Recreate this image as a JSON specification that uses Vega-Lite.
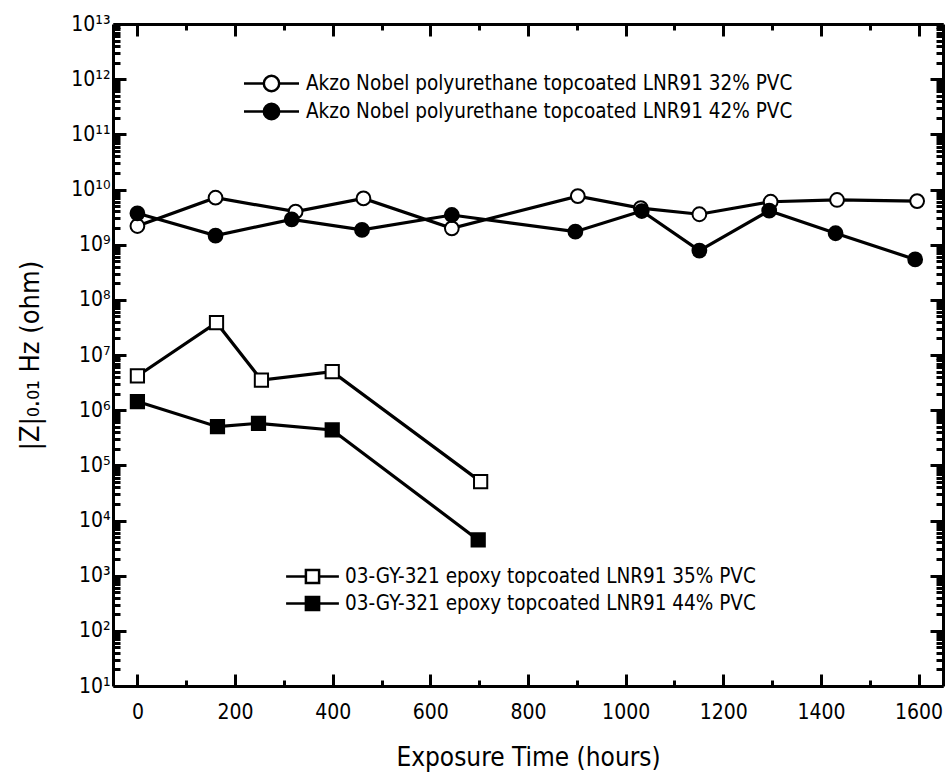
{
  "$schema": "https://vega.github.io/schema/vega-lite/v6.json",
  "width": 830,
  "height": 662,
  "autosize": {"type": "none"},
  "padding": {"left": 113, "top": 24, "right": 6, "bottom": 90},
  "background": "white",
  "config": {
    "view": {"stroke": null},
    "font": "DejaVu Sans Condensed, DejaVu Sans",
    "axis": {
      "labelFont": "DejaVu Sans Condensed, DejaVu Sans",
      "titleFont": "DejaVu Sans Condensed, DejaVu Sans",
      "labelColor": "black",
      "titleColor": "black",
      "domainColor": "black",
      "tickColor": "black",
      "domainWidth": 3,
      "tickWidth": 3,
      "grid": false,
      "titleFontWeight": "normal"
    },
    "legend": {
      "labelFont": "DejaVu Sans Condensed, DejaVu Sans",
      "labelColor": "black"
    }
  },
  "data": {
    "values": [
      {"series": "Akzo Nobel polyurethane topcoated LNR91 32% PVC", "t": 0, "z": 2.18e9},
      {"series": "Akzo Nobel polyurethane topcoated LNR91 32% PVC", "t": 160, "z": 7.1e9},
      {"series": "Akzo Nobel polyurethane topcoated LNR91 32% PVC", "t": 324, "z": 3.96e9},
      {"series": "Akzo Nobel polyurethane topcoated LNR91 32% PVC", "t": 463, "z": 6.9e9},
      {"series": "Akzo Nobel polyurethane topcoated LNR91 32% PVC", "t": 644, "z": 1.98e9},
      {"series": "Akzo Nobel polyurethane topcoated LNR91 32% PVC", "t": 902, "z": 7.6e9},
      {"series": "Akzo Nobel polyurethane topcoated LNR91 32% PVC", "t": 1031, "z": 4.6e9},
      {"series": "Akzo Nobel polyurethane topcoated LNR91 32% PVC", "t": 1151, "z": 3.56e9},
      {"series": "Akzo Nobel polyurethane topcoated LNR91 32% PVC", "t": 1297, "z": 6.0e9},
      {"series": "Akzo Nobel polyurethane topcoated LNR91 32% PVC", "t": 1433, "z": 6.46e9},
      {"series": "Akzo Nobel polyurethane topcoated LNR91 32% PVC", "t": 1597, "z": 6.17e9},
      {"series": "Akzo Nobel polyurethane topcoated LNR91 42% PVC", "t": 0, "z": 3.7e9},
      {"series": "Akzo Nobel polyurethane topcoated LNR91 42% PVC", "t": 160, "z": 1.46e9},
      {"series": "Akzo Nobel polyurethane topcoated LNR91 42% PVC", "t": 316, "z": 2.88e9},
      {"series": "Akzo Nobel polyurethane topcoated LNR91 42% PVC", "t": 460, "z": 1.85e9},
      {"series": "Akzo Nobel polyurethane topcoated LNR91 42% PVC", "t": 644, "z": 3.45e9},
      {"series": "Akzo Nobel polyurethane topcoated LNR91 42% PVC", "t": 897, "z": 1.72e9},
      {"series": "Akzo Nobel polyurethane topcoated LNR91 42% PVC", "t": 1033, "z": 4.07e9},
      {"series": "Akzo Nobel polyurethane topcoated LNR91 42% PVC", "t": 1151, "z": 7.8e8},
      {"series": "Akzo Nobel polyurethane topcoated LNR91 42% PVC", "t": 1294, "z": 4.13e9},
      {"series": "Akzo Nobel polyurethane topcoated LNR91 42% PVC", "t": 1430, "z": 1.61e9},
      {"series": "Akzo Nobel polyurethane topcoated LNR91 42% PVC", "t": 1593, "z": 5.4e8},
      {"series": "03-GY-321 epoxy topcoated LNR91 35% PVC", "t": 0, "z": 4.17e6},
      {"series": "03-GY-321 epoxy topcoated LNR91 35% PVC", "t": 162, "z": 3.85e7},
      {"series": "03-GY-321 epoxy topcoated LNR91 35% PVC", "t": 254, "z": 3.52e6},
      {"series": "03-GY-321 epoxy topcoated LNR91 35% PVC", "t": 399, "z": 4.99e6},
      {"series": "03-GY-321 epoxy topcoated LNR91 35% PVC", "t": 703, "z": 5.06e4},
      {"series": "03-GY-321 epoxy topcoated LNR91 44% PVC", "t": 0, "z": 1.43e6},
      {"series": "03-GY-321 epoxy topcoated LNR91 44% PVC", "t": 164, "z": 5.02e5},
      {"series": "03-GY-321 epoxy topcoated LNR91 44% PVC", "t": 248, "z": 5.78e5},
      {"series": "03-GY-321 epoxy topcoated LNR91 44% PVC", "t": 399, "z": 4.38e5},
      {"series": "03-GY-321 epoxy topcoated LNR91 44% PVC", "t": 698, "z": 4.44e3}
    ]
  },
  "resolve": {
    "scale": {"fill": "independent"},
    "axis": {"x": "independent", "y": "independent"},
    "legend": {"fill": "independent"}
  },
  "layer": [
    {
      "mark": {"type": "line", "color": "black", "strokeWidth": 3.2},
      "encoding": {
        "x": {
          "field": "t", "type": "quantitative",
          "scale": {"domain": [-50, 1650], "nice": false, "zero": false},
          "axis": {
            "orient": "bottom",
            "title": "Exposure Time (hours)",
            "titleFontSize": 26,
            "titlePadding": 22,
            "values": [0, 100, 200, 300, 400, 500, 600, 700, 800, 900, 1000, 1100, 1200, 1300, 1400, 1500, 1600],
            "format": "d",
            "labelExpr": "datum.value % 200 == 0 ? datum.label : ''",
            "labelFontSize": 21,
            "labelPadding": 27,
            "tickSize": {"condition": {"test": "datum.value % 200 == 0", "value": -12}, "value": -6}
          }
        },
        "y": {
          "field": "z", "type": "quantitative",
          "scale": {"type": "log", "domain": [10, 1e13], "nice": false},
          "axis": {
            "orient": "left",
            "title": "|Z|₀.₀₁ Hz (ohm)",
            "titleFontSize": 27,
            "titlePadding": 26,
            "values": [1e1,2e1,3e1,4e1,5e1,6e1,7e1,8e1,9e1,1e2,2e2,3e2,4e2,5e2,6e2,7e2,8e2,9e2,1e3,2e3,3e3,4e3,5e3,6e3,7e3,8e3,9e3,1e4,2e4,3e4,4e4,5e4,6e4,7e4,8e4,9e4,1e5,2e5,3e5,4e5,5e5,6e5,7e5,8e5,9e5,1e6,2e6,3e6,4e6,5e6,6e6,7e6,8e6,9e6,1e7,2e7,3e7,4e7,5e7,6e7,7e7,8e7,9e7,1e8,2e8,3e8,4e8,5e8,6e8,7e8,8e8,9e8,1e9,2e9,3e9,4e9,5e9,6e9,7e9,8e9,9e9,1e10,2e10,3e10,4e10,5e10,6e10,7e10,8e10,9e10,1e11,2e11,3e11,4e11,5e11,6e11,7e11,8e11,9e11,1e12,2e12,3e12,4e12,5e12,6e12,7e12,8e12,9e12,1e13],
            "labelExpr": "abs(log(datum.value)/LN10 - round(log(datum.value)/LN10)) < 0.001 ? '10' + ['⁰','¹','²','³','⁴','⁵','⁶','⁷','⁸','⁹','¹⁰','¹¹','¹²','¹³'][round(log(datum.value)/LN10)] : ''",
            "labelFontSize": 21,
            "labelPadding": 16,
            "tickSize": {"condition": {"test": "abs(log(datum.value)/LN10 - round(log(datum.value)/LN10)) < 0.001", "value": -13}, "value": -7}
          }
        },
        "detail": {"field": "series", "type": "nominal"}
      }
    },
    {
      "transform": [{"filter": "indexof(datum.series, 'Akzo') == 0"}],
      "mark": {"type": "point", "shape": "circle", "filled": true, "size": 190, "stroke": "black", "strokeWidth": 2, "opacity": 1},
      "encoding": {
        "x": {
          "field": "t", "type": "quantitative",
          "axis": {
            "orient": "top", "title": null, "labels": false,
            "values": [0, 100, 200, 300, 400, 500, 600, 700, 800, 900, 1000, 1100, 1200, 1300, 1400, 1500, 1600],
            "tickSize": {"condition": {"test": "datum.value % 200 == 0", "value": -12}, "value": -6}
          }
        },
        "y": {
          "field": "z", "type": "quantitative",
          "axis": {
            "orient": "right", "title": null, "labels": false,
            "values": [1e1,2e1,3e1,4e1,5e1,6e1,7e1,8e1,9e1,1e2,2e2,3e2,4e2,5e2,6e2,7e2,8e2,9e2,1e3,2e3,3e3,4e3,5e3,6e3,7e3,8e3,9e3,1e4,2e4,3e4,4e4,5e4,6e4,7e4,8e4,9e4,1e5,2e5,3e5,4e5,5e5,6e5,7e5,8e5,9e5,1e6,2e6,3e6,4e6,5e6,6e6,7e6,8e6,9e6,1e7,2e7,3e7,4e7,5e7,6e7,7e7,8e7,9e7,1e8,2e8,3e8,4e8,5e8,6e8,7e8,8e8,9e8,1e9,2e9,3e9,4e9,5e9,6e9,7e9,8e9,9e9,1e10,2e10,3e10,4e10,5e10,6e10,7e10,8e10,9e10,1e11,2e11,3e11,4e11,5e11,6e11,7e11,8e11,9e11,1e12,2e12,3e12,4e12,5e12,6e12,7e12,8e12,9e12,1e13],
            "tickSize": {"condition": {"test": "abs(log(datum.value)/LN10 - round(log(datum.value)/LN10)) < 0.001", "value": -13}, "value": -7}
          }
        },
        "fill": {
          "field": "series", "type": "nominal",
          "scale": {"domain": ["Akzo Nobel polyurethane topcoated LNR91 32% PVC", "Akzo Nobel polyurethane topcoated LNR91 42% PVC"], "range": ["white", "black"]},
          "legend": {
            "title": null,
            "orient": "none",
            "legendX": 146,
            "legendY": 47,
            "padding": 0,
            "symbolType": "M-2.5,0H-0.7M0.7,0H2.5M-0.7,0A0.7,0.7,0,1,1,0.7,0A0.7,0.7,0,1,1,-0.7,0Z",
            "symbolSize": 484,
            "symbolStrokeColor": "black",
            "symbolStrokeWidth": 2.5,
            "labelFontSize": 20.5,
            "labelLimit": 0,
            "labelOffset": 22,
            "rowPadding": 1,
            "encode": {
              "symbols": {"update": {
                "shape": {"value": "M-2.5,0H-0.7M0.7,0H2.5M-0.7,0A0.7,0.7,0,1,1,0.7,0A0.7,0.7,0,1,1,-0.7,0Z"},
                "size": {"value": 484},
                "stroke": {"value": "black"},
                "strokeWidth": {"value": 2.5},
                "opacity": {"value": 1}
              }}
            }
          }
        }
      }
    },
    {
      "transform": [{"filter": "indexof(datum.series, '03-GY') == 0"}],
      "mark": {"type": "point", "shape": "square", "filled": true, "size": 175, "stroke": "black", "strokeWidth": 2, "opacity": 1},
      "encoding": {
        "x": {"field": "t", "type": "quantitative", "axis": null},
        "y": {"field": "z", "type": "quantitative", "axis": null},
        "fill": {
          "field": "series", "type": "nominal",
          "scale": {"domain": ["03-GY-321 epoxy topcoated LNR91 35% PVC", "03-GY-321 epoxy topcoated LNR91 44% PVC"], "range": ["white", "black"]},
          "legend": {
            "title": null,
            "orient": "none",
            "legendX": 187,
            "legendY": 540,
            "padding": 0,
            "symbolType": "M-2.4,0H-0.6M0.6,0H2.4M-0.6,-0.6H0.6V0.6H-0.6Z",
            "symbolSize": 484,
            "symbolStrokeColor": "black",
            "symbolStrokeWidth": 2.5,
            "labelFontSize": 20.5,
            "labelLimit": 0,
            "labelOffset": 20,
            "rowPadding": 2,
            "encode": {
              "symbols": {"update": {
                "shape": {"value": "M-2.4,0H-0.6M0.6,0H2.4M-0.6,-0.6H0.6V0.6H-0.6Z"},
                "size": {"value": 484},
                "stroke": {"value": "black"},
                "strokeWidth": {"value": 2.5},
                "opacity": {"value": 1}
              }}
            }
          }
        }
      }
    }
  ]
}
